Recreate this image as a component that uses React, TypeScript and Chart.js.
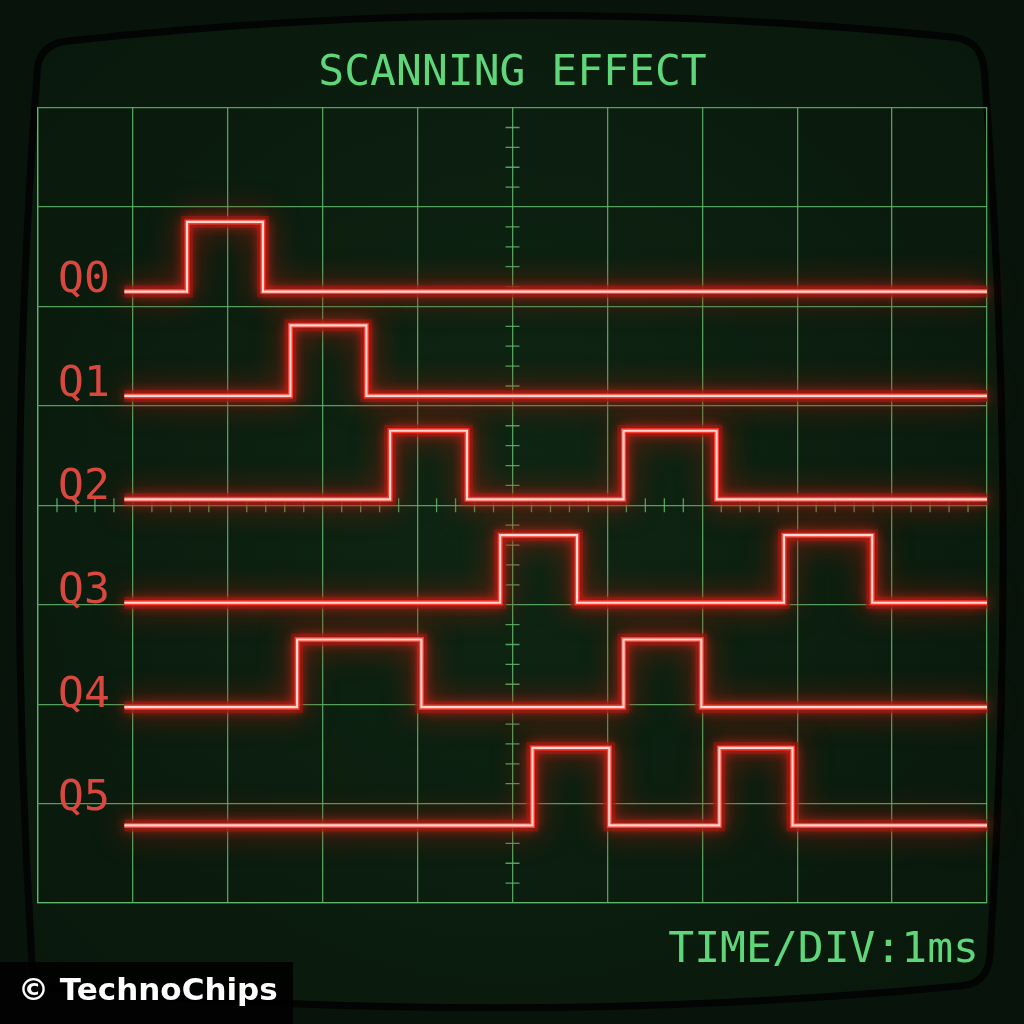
import React, { useEffect, useRef } from "react";
import { Chart, registerables } from "chart.js";

Chart.register(...registerables);

// ---- data (x in time divisions of 1 ms, y in vertical screen divisions) ----
const CHANNELS = ["Q0", "Q1", "Q2", "Q3", "Q4", "Q5"];
const LOW_LEVEL = [6.15, 5.1, 4.06, 3.02, 1.97, 0.78];
const HIGH_LEVEL = [6.85, 5.81, 4.75, 3.7, 2.65, 1.56];
const LABEL_LEVEL = [6.15, 5.1, 4.06, 3.02, 1.97, 0.94];
const Q0_EDGES = [1.57, 2.37];
const Q1_EDGES = [2.66, 3.46];
const Q2_EDGES = [3.71, 4.52, 6.17, 7.15];
const Q3_EDGES = [4.87, 5.68, 7.86, 8.79];
const Q4_EDGES = [2.73, 4.04, 6.17, 6.99];
const Q5_EDGES = [5.21, 6.02, 7.18, 7.95];
const EDGES = [Q0_EDGES, Q1_EDGES, Q2_EDGES, Q3_EDGES, Q4_EDGES, Q5_EDGES];
const TRACE_START = 0.91;
const TRACE_END = 10;
const X_DIVS = 10;
const Y_DIVS = 8;
const SUB_DIVS = 5;

const TITLE = "SCANNING EFFECT";
const TIMEBASE = "TIME/DIV:1ms";
const WATERMARK = "© TechnoChips";

const MONO = "'DejaVu Sans Mono', monospace";
const GRID = "rgba(96,184,108,0.85)";
const TEXT_GREEN = "#5fd67a";
const LABEL_RED = "#d9473f";

function tracePoints(i: number) {
  const pts = [{ x: TRACE_START, y: LOW_LEVEL[i] }];
  EDGES[i].forEach((t, k) => {
    pts.push({ x: t, y: k % 2 === 0 ? HIGH_LEVEL[i] : LOW_LEVEL[i] });
  });
  pts.push({ x: TRACE_END, y: LOW_LEVEL[i] });
  return pts;
}

const backgroundPlugin = {
  id: "crtBackground",
  beforeDraw(chart: any) {
    const ctx = chart.ctx;
    const w = chart.width;
    const h = chart.height;
    ctx.save();
    ctx.fillStyle = "#08140b";
    ctx.fillRect(0, 0, w, h);
    ctx.beginPath();
    ctx.moveTo(37, 75);
    ctx.quadraticCurveTo(37, 44, 68, 41);
    ctx.quadraticCurveTo(512, -8, 952, 37);
    ctx.quadraticCurveTo(981, 40, 984, 68);
    ctx.quadraticCurveTo(1019, 512, 990, 955);
    ctx.quadraticCurveTo(988, 984, 960, 986);
    ctx.quadraticCurveTo(512, 1028, 62, 989);
    ctx.quadraticCurveTo(34, 988, 32, 962);
    ctx.quadraticCurveTo(4, 512, 37, 75);
    ctx.closePath();
    const g = ctx.createRadialGradient(512, 500, 40, 512, 512, 700);
    g.addColorStop(0, "#0f2513");
    g.addColorStop(1, "#08170b");
    ctx.fillStyle = g;
    ctx.fill();
    ctx.lineWidth = 7;
    ctx.strokeStyle = "#020503";
    ctx.stroke();
    ctx.restore();
  },
};

const centerTicksPlugin = {
  id: "centerTicks",
  beforeDatasetsDraw(chart: any) {
    const ctx = chart.ctx;
    const xs = chart.scales.x;
    const ys = chart.scales.y;
    const cx = xs.getPixelForValue(X_DIVS / 2);
    const cy = ys.getPixelForValue(Y_DIVS / 2);
    ctx.save();
    ctx.strokeStyle = GRID;
    ctx.lineWidth = 1.3;
    ctx.beginPath();
    for (let k = 1; k < X_DIVS * SUB_DIVS; k++) {
      if (k % SUB_DIVS === 0) continue;
      const px = xs.getPixelForValue(k / SUB_DIVS);
      ctx.moveTo(px, cy - 7);
      ctx.lineTo(px, cy + 7);
    }
    for (let k = 1; k < Y_DIVS * SUB_DIVS; k++) {
      if (k % SUB_DIVS === 0) continue;
      const py = ys.getPixelForValue(k / SUB_DIVS);
      ctx.moveTo(cx - 7, py);
      ctx.lineTo(cx + 7, py);
    }
    ctx.stroke();
    ctx.restore();
  },
};

const glowPlugin = {
  id: "traceGlow",
  beforeDatasetDraw(chart: any, args: any) {
    const ds = chart.data.datasets[args.index];
    if (ds && ds.glow) {
      const ctx = chart.ctx;
      ctx.save();
      ctx.shadowColor = ds.glowColor;
      ctx.shadowBlur = ds.glow;
    }
  },
  afterDatasetDraw(chart: any, args: any) {
    const ds = chart.data.datasets[args.index];
    if (ds && ds.glow) chart.ctx.restore();
  },
};

const textPlugin = {
  id: "scopeText",
  afterDraw(chart: any) {
    const ctx = chart.ctx;
    const ys = chart.scales.y;
    ctx.save();
    ctx.font = `43px ${MONO}`;
    ctx.textBaseline = "alphabetic";
    ctx.textAlign = "left";
    ctx.fillStyle = LABEL_RED;
    CHANNELS.forEach((name, i) => {
      ctx.fillText(name, 58, ys.getPixelForValue(LABEL_LEVEL[i]));
    });
    ctx.fillStyle = TEXT_GREEN;
    ctx.textAlign = "right";
    ctx.fillText(TIMEBASE, 979, 962);
    // watermark
    ctx.fillStyle = "rgba(0,0,0,0.88)";
    ctx.fillRect(0, 962, 293, 62);
    ctx.fillStyle = "#ffffff";
    ctx.textAlign = "left";
    ctx.font = `bold 31px 'DejaVu Sans', sans-serif`;
    ctx.fillText(WATERMARK, 18, 1000);
    ctx.restore();
  },
};

export default function App() {
  const ref = useRef<HTMLCanvasElement | null>(null);

  useEffect(() => {
    if (!ref.current) return;
    const datasets: any[] = [];
    CHANNELS.forEach((name, i) => {
      const data = tracePoints(i);
      const common = {
        data,
        stepped: "before",
        pointRadius: 0,
        borderJoinStyle: "miter",
        borderCapStyle: "butt",
        clip: false,
      };
      datasets.push({
        ...common,
        label: name + " haze",
        glow: 30,
        glowColor: "rgba(170,25,12,1)",
        borderColor: "rgba(120,22,12,0.75)",
        borderWidth: 12,
        order: 3,
      });
      datasets.push({
        ...common,
        label: name + " glow",
        glow: 12,
        glowColor: "rgba(255,40,30,1)",
        borderColor: "#ff3a2e",
        borderWidth: 5,
        order: 2,
      });
      datasets.push({
        ...common,
        label: name,
        borderColor: "#ffd9d2",
        borderWidth: 2.2,
        order: 1,
      });
    });

    const chart = new Chart(ref.current, {
      type: "line",
      data: { datasets },
      options: {
        responsive: false,
        animation: false,
        devicePixelRatio: 1,
        layout: { padding: { top: 48, left: 38, right: 37, bottom: 121 } },
        plugins: {
          legend: { display: false },
          tooltip: { enabled: false },
          title: {
            display: true,
            text: TITLE,
            color: TEXT_GREEN,
            font: { family: MONO, size: 43, weight: "normal", lineHeight: 1.2 },
            padding: { top: 0, bottom: 8 },
          },
        },
        scales: {
          x: {
            type: "linear",
            min: 0,
            max: X_DIVS,
            ticks: { display: false, stepSize: 1 },
            grid: { color: GRID, lineWidth: 1.3, drawTicks: false },
            border: { display: true, color: GRID, width: 1.3 },
          },
          y: {
            type: "linear",
            min: 0,
            max: Y_DIVS,
            ticks: { display: false, stepSize: 1 },
            grid: { color: GRID, lineWidth: 1.3, drawTicks: false },
            border: { display: true, color: GRID, width: 1.3 },
          },
        },
      } as any,
      plugins: [backgroundPlugin, centerTicksPlugin, glowPlugin, textPlugin],
    });
    return () => chart.destroy();
  }, []);

  return (
    <div style={{ position: "absolute", left: 0, top: 0, width: 1024, height: 1024 }}>
      <canvas ref={ref} width={1024} height={1024} style={{ display: "block" }} />
    </div>
  );
}
